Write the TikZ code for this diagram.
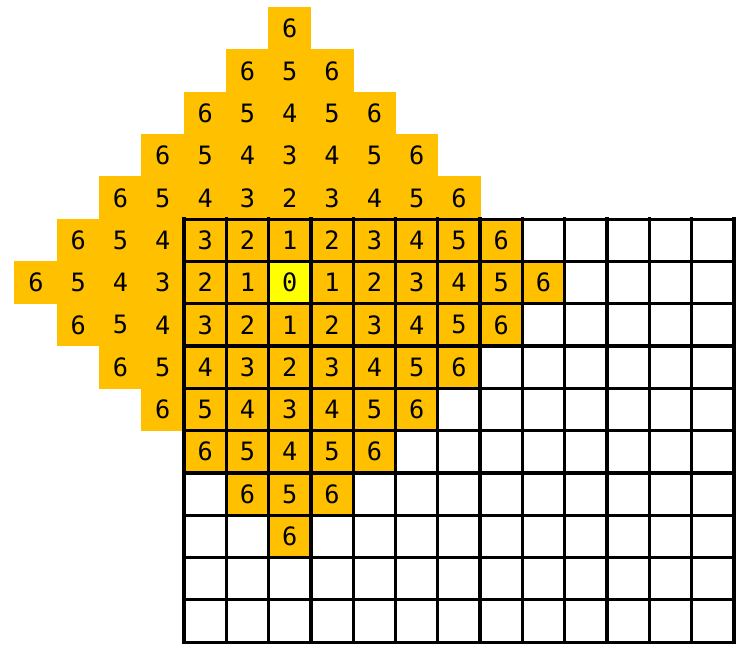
\documentclass[tikz,border=0pt]{standalone}
\usepackage{fontspec}
\newfontfamily\distfont{DejaVu Sans Mono}
\usetikzlibrary{calc}
\definecolor{amber}{HTML}{FFC000}
\definecolor{lemon}{HTML}{FFFF00}
\tikzset{dist/.style={font=\distfont\fontsize{17pt}{17pt}\selectfont, inner sep=0}}

\begin{document}
\begin{tikzpicture}
\useasboundingbox (-6.85,-8.81) rectangle (10.88,6.68);
% distance diamond round the start cell
\foreach \x in {-6,...,6} {
 \pgfmathtruncatemacro{\r}{6-abs(\x)}
 \foreach \y in {-\r,...,\r} {
  \fill[amber] (\x-.51,\y-.51) rectangle ++(1.02,1.02);
 }
}
\fill[lemon] (-.5,-.5) rectangle ++(1,1);
% the board
\draw[black, line width=2.2pt, line cap=rect, shift={(-.5,-.5)}] (-2,-8) grid (11,2);
\foreach \x in {-6,...,6} {
 \pgfmathtruncatemacro{\r}{6-abs(\x)}
 \foreach \y in {-\r,...,\r} {
  \pgfmathtruncatemacro{\d}{abs(\x)+abs(\y)}
  \pgfmathtruncatemacro{\cx}{\x+6}
  \pgfmathtruncatemacro{\cy}{\y+6}
  \node[dist] (d\cx x\cy) at (\x,\y) {\d};
 }
}
\end{tikzpicture}
\end{document}
